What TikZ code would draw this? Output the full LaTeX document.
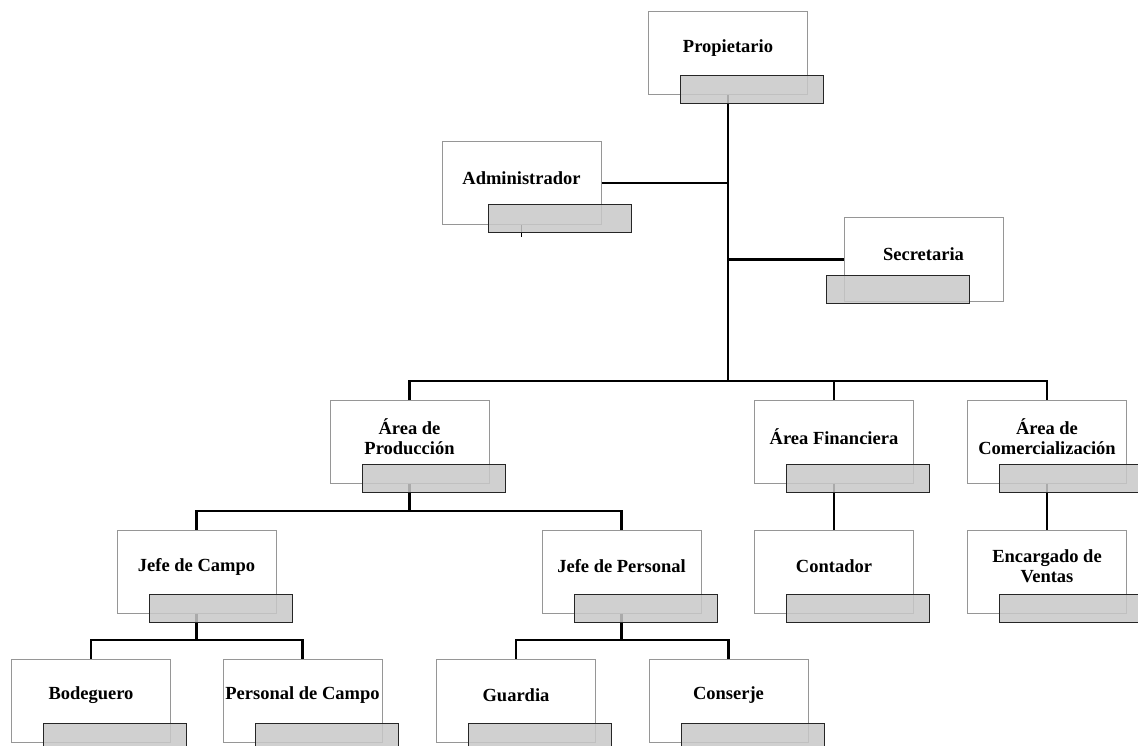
\documentclass[tikz,border=0pt]{standalone}
\usepackage{fontspec}
\setmainfont{Liberation Serif}
\definecolor{boxline}{RGB}{150,150,150}
\definecolor{tabfill}{RGB}{200,200,200}
\tikzset{
  unitbox/.style={draw=boxline, line width=1pt, fill=white, minimum width=159pt, minimum height=83pt, inner sep=0pt},
  tabbox/.style={draw=black!85, line width=1pt, fill=tabfill, fill opacity=0.85, draw opacity=1, minimum width=143pt, minimum height=28pt, inner sep=0pt},
  label/.style={font=\bfseries\fontsize{18.5}{20}\selectfont, align=center, inner sep=0pt, text=black},
  link/.style={line width=2.4pt, draw=black},
  stub/.style={line width=1.2pt, draw=black}
}
\newcommand{\orgbox}[4]{%
  \node[unitbox] (#1) at (#2) {};
  \node[label] (#1-t) at ($(#1.center)+(0,-5)$) {#3};
}
\newcommand{\orgtab}[1]{%
  \node[tabbox] (#1-g) at ($(#1.center)+(24,36.5)$) {};
}
\usetikzlibrary{calc}
\begin{document}
\begin{tikzpicture}[x=1pt,y=-1pt]
\useasboundingbox (0,0) rectangle (1138,746);
\clip (0,0) rectangle (1138,746);
% boxes
\orgbox{prop}{728,53.5}{Propietario}{}
\orgbox{admin}{521.5,183}{Administrador}{}
\orgbox{secr}{923.5,259.5}{Secretaria}{}
\orgbox{prod}{409.5,442}{Área de\\Producción}{}
\orgbox{fin}{834,441.5}{Área Financiera}{}
\orgbox{com}{1047,441.5}{Área de\\Comercialización}{}
\orgbox{jcampo}{196.5,571.5}{Jefe de Campo}{}
\orgbox{jpers}{621.5,571.5}{Jefe de Personal}{}
\orgbox{cont}{834,571.5}{Contador}{}
\orgbox{ventas}{1047,571.5}{Encargado de\\Ventas}{}
\orgbox{bod}{91,700.5}{Bodeguero}{}
\orgbox{pcampo}{302.5,700.5}{Personal de Campo}{}
\orgbox{guard}{516,700.5}{Guardia}{}
\orgbox{cons}{728.5,700.5}{Conserje}{}
% bus coordinates
\coordinate (bus1) at (0,381);
\coordinate (bus2) at (0,511);
\coordinate (bus3) at (0,640);
\coordinate (adminstub) at ($(admin.south)+(0,12)$);
% connectors
\draw[link] (prop.south) -- (prop.south |- bus1);
\draw[link] (admin.east) -- (admin.east -| prop.south);
\draw[link] (secr.west) -- (secr.west -| prop.south);
\draw[stub] (admin.south) -- (adminstub);
\draw[link] (prod.north) -- (prod.north |- bus1) -- (com.north |- bus1) -- (com.north);
\draw[link] (fin.north |- bus1) -- (fin.north);
\draw[link] (prod.south) -- (prod.south |- bus2);
\draw[link] (jcampo.north) -- (jcampo.north |- bus2) -- (jpers.north |- bus2) -- (jpers.north);
\draw[link] (fin.south) -- (cont.north);
\draw[link] (com.south) -- (ventas.north);
\draw[link] (jcampo.south) -- (jcampo.south |- bus3);
\draw[link] (bod.north) -- (bod.north |- bus3) -- (pcampo.north |- bus3) -- (pcampo.north);
\draw[link] (jpers.south) -- (jpers.south |- bus3);
\draw[link] (guard.north) -- (guard.north |- bus3) -- (cons.north |- bus3) -- (cons.north);
% tabs
\orgtab{prop}
\node[tabbox] (admin-g) at ($(admin.center)+(38,35.5)$) {};
\node[tabbox] (secr-g) at ($(secr.center)+(-25.5,30)$) {};
\orgtab{prod}\orgtab{fin}\orgtab{com}
\orgtab{jcampo}\orgtab{jpers}\orgtab{cont}\orgtab{ventas}
\orgtab{bod}\orgtab{pcampo}\orgtab{guard}\orgtab{cons}
\end{tikzpicture}
\end{document}
